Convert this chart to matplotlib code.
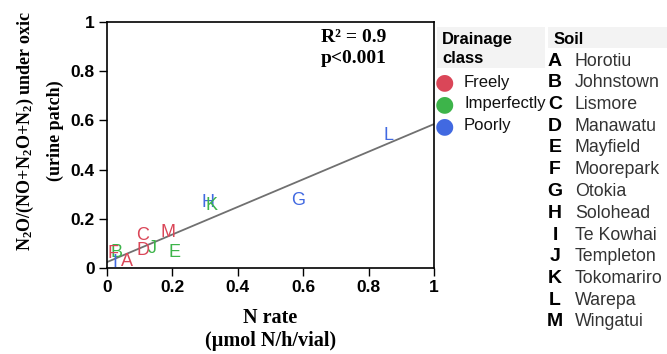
import matplotlib
matplotlib.use("Agg")
import matplotlib.pyplot as plt
from matplotlib.patches import Rectangle

plt.rcParams['mathtext.default'] = 'regular'

letters = ['A', 'B', 'C', 'D', 'E', 'F', 'G', 'H', 'I', 'J', 'K', 'L', 'M']
soils = ['Horotiu', 'Johnstown', 'Lismore', 'Manawatu', 'Mayfield', 'Moorepark',
         'Otokia', 'Solohead', 'Te Kowhai', 'Templeton', 'Tokomariro', 'Warepa', 'Wingatui']
drainage = ['Freely', 'Imperfectly', 'Freely', 'Freely', 'Imperfectly', 'Freely',
            'Poorly', 'Poorly', 'Poorly', 'Imperfectly', 'Imperfectly', 'Poorly', 'Freely']
n_rate = [0.060, 0.030, 0.110, 0.110, 0.205, 0.018, 0.584, 0.309, 0.024, 0.137, 0.320, 0.860, 0.186]
ratio = [0.025, 0.065, 0.134, 0.073, 0.065, 0.060, 0.276, 0.268, 0.024, 0.081, 0.256, 0.540, 0.146]

classes = ['Freely', 'Imperfectly', 'Poorly']
class_colors = {'Freely': '#DA4658', 'Imperfectly': '#3DB44A', 'Poorly': '#4169E1'}

fit_intercept = 0.024
fit_slope = 0.561
fit_x = [0, 1]

fig = plt.figure(figsize=(6.67, 3.54), dpi=100)
ax = fig.add_axes([107/667, 1 - 268/354, 327/667, 246/354])

ax.plot(fit_x, [fit_intercept + fit_slope * v for v in fit_x], color='#707070', lw=1.3, zorder=1)
for l, d, x, y in zip(letters, drainage, n_rate, ratio):
    ax.text(x, y, l, color=class_colors[d], fontsize=13, family='Liberation Sans',
            ha='center', va='center', zorder=2)

ax.set_xlim(0, 1)
ax.set_ylim(0, 1)
ticks = [0, 0.2, 0.4, 0.6, 0.8, 1]
tick_labels = ['0', '0.2', '0.4', '0.6', '0.8', '1']
ax.set_xticks(ticks)
ax.set_xticklabels(tick_labels)
ax.set_yticks(ticks)
ax.set_yticklabels(tick_labels)
ax.tick_params(direction='out', length=6, width=1, labelsize=12.5, pad=3)
for lab in ax.get_xticklabels() + ax.get_yticklabels():
    lab.set_fontweight('bold')
    lab.set_family('Liberation Sans')
for sp in ax.spines.values():
    sp.set_linewidth(1.2)

ax.set_xlabel('N rate\n(µmol N/h/vial)', fontsize=14.5, fontweight='bold',
              family='Liberation Serif', labelpad=9, linespacing=1.2)
ax.set_ylabel('N$_2$O/(NO+N$_2$O+N$_2$) under oxic\n(urine patch)', fontsize=13,
              fontweight='bold', family='Liberation Serif', linespacing=1.85)
ax.yaxis.set_label_coords(-0.131, 0.557)

ax.text(0.655, 0.895, 'R² = 0.9\np<0.001', transform=ax.transAxes, fontsize=14,
        fontweight='bold', family='Liberation Serif', ha='left', va='center', linespacing=1.3)

# Drainage legend
fig.patches.append(Rectangle((437/667, 1 - 68/354), 108/667, 41/354, transform=fig.transFigure,
                             facecolor='#F3F3F3', edgecolor='none'))
fig.text(442/667, 1 - 49/354, 'Drainage\nclass', fontsize=12, fontweight='bold',
         family='Liberation Sans', ha='left', va='center', linespacing=1.3)
for i, c in enumerate(classes):
    yy = 1 - (82 + 22 * i) / 354
    fig.text(444/667, yy, '●', color=class_colors[c], fontsize=16, family='DejaVu Sans',
             ha='center', va='center')
    fig.text(464/667, yy, c, fontsize=12, family='Liberation Sans', ha='left', va='center',
             color='#111111')

# Soil legend
fig.patches.append(Rectangle((548/667, 1 - 48/354), 119/667, 21/354, transform=fig.transFigure,
                             facecolor='#F3F3F3', edgecolor='none'))
fig.text(554/667, 1 - 39/354, 'Soil', fontsize=12, fontweight='bold',
         family='Liberation Sans', ha='left', va='center')
for i, (l, s) in enumerate(zip(letters, soils)):
    yy = 1 - (61 + 21.75 * i) / 354
    fig.text(555/667, yy, l, fontsize=14, fontweight='bold', family='Liberation Sans',
             ha='center', va='center', color='black')
    fig.text(575/667, yy, s, fontsize=12.8, family='Liberation Sans', ha='left', va='center',
             color='#333333')

fig.savefig('out.png', dpi=100)
